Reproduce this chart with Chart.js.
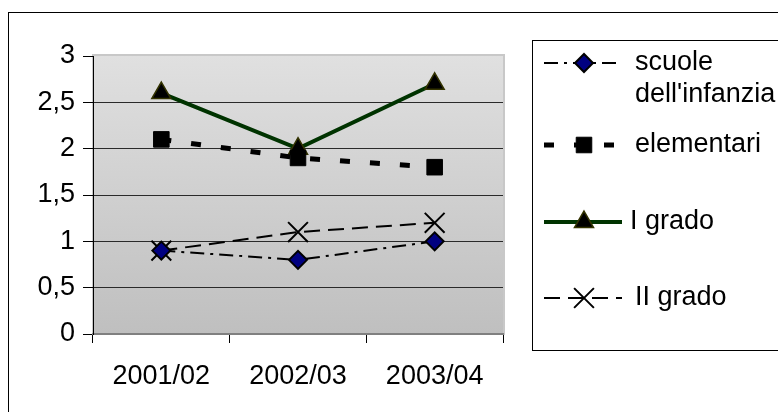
<!DOCTYPE html>
<html lang="it">
<head>
<meta charset="UTF-8">
<title>Grafico</title>
<style>
  body { margin: 0; background: #fff; }
  canvas { display: block; }
</style>
</head>
<body>
<canvas id="myChart" width="778" height="412"></canvas>

<script src="https://cdn.jsdelivr.net/npm/chart.js"></script>
<script>
// dati
let anni = ['2001/02', '2002/03', '2003/04'];
let infanzia = [0.9, 0.8, 1.0];
let elementari = [2.1, 1.9, 1.8];
let primoGrado = [2.6, 2.0, 2.7];
let secondoGrado = [0.9, 1.1, 1.2];
let etichette = [['scuole', "dell'infanzia"], ['elementari'], ['I grado'], ['II grado']];

let font = '"Liberation Sans", Arial, sans-serif';

// sfondo sfumato dell'area e cornice esterna
let sfondo = {
  id: 'sfondo',
  beforeDraw(chart) {
    let c = chart.ctx, a = chart.chartArea;
    c.save();
    let g = c.createLinearGradient(0, a.top, 0, a.bottom);
    g.addColorStop(0, '#e0e0e0');
    g.addColorStop(1, '#bfbfbf');
    c.fillStyle = g;
    c.fillRect(a.left, a.top - 1, a.right - a.left + 1, a.bottom - a.top + 1);
    c.strokeStyle = '#c8c8c8';
    c.lineWidth = 2;
    c.strokeRect(a.left, a.top - 1, a.right - a.left + 1, a.bottom - a.top + 1);
    c.strokeStyle = '#000';
    c.lineWidth = 1;
    c.strokeRect(8.5, 12.5, 820, 450);
    c.restore();
  }
};

// legenda disegnata a mano (linea + simbolo)
let legenda = {
  id: 'legenda',
  afterDraw(chart) {
    let c = chart.ctx;
    let righe = [63, 145, 222, 298];
    c.save();
    c.strokeStyle = '#000';
    c.lineWidth = 1;
    c.setLineDash([]);
    c.strokeRect(532.5, 40.5, 260, 310);
    chart.data.datasets.forEach((ds, i) => {
      let y = righe[i];
      c.save();
      c.strokeStyle = ds.borderColor;
      c.lineWidth = ds.borderWidth;
      c.setLineDash(ds.borderDash || []);
      c.beginPath();
      c.moveTo(544, y);
      c.lineTo(622, y);
      c.stroke();
      c.setLineDash([]);
      c.fillStyle = ds.pointBackgroundColor;
      c.strokeStyle = ds.pointBorderColor;
      c.lineWidth = ds.pointBorderWidth;
      Chart.helpers.drawPoint(c, {
        pointStyle: ds.pointStyle,
        radius: ds.pointRadius,
        rotation: 0,
        borderWidth: ds.pointBorderWidth
      }, 584, y);
      c.restore();
      c.fillStyle = '#000';
      c.font = '27px ' + font;
      c.textBaseline = 'middle';
      etichette[i].forEach((t, k) => {
        c.fillText(t, i == 2 ? 630 : 635, y + k * 32);
      });
    });
    c.restore();
  }
};

let ctx = document.getElementById('myChart');
new Chart(ctx, {
  type: 'line',
  data: {
    labels: anni,
    datasets: [{
      label: "scuole dell'infanzia",
      data: infanzia,
      borderColor: '#000',
      borderWidth: 2,
      borderDash: [14, 6, 3, 6],
      pointStyle: 'rectRot',
      pointRadius: 9,
      pointBackgroundColor: '#000080',
      pointBorderColor: '#000',
      pointBorderWidth: 2
    }, {
      label: 'elementari',
      data: elementari,
      borderColor: '#000',
      borderWidth: 5,
      borderDash: [10, 20],
      pointStyle: 'rect',
      pointRadius: 11,
      pointBackgroundColor: '#000',
      pointBorderColor: '#000',
      pointBorderWidth: 1
    }, {
      label: 'I grado',
      data: primoGrado,
      borderColor: '#003300',
      borderWidth: 4,
      pointStyle: 'triangle',
      pointRadius: 11,
      pointBackgroundColor: '#000',
      pointBorderColor: '#333300',
      pointBorderWidth: 1.5
    }, {
      label: 'II grado',
      data: secondoGrado,
      borderColor: '#000',
      borderWidth: 2,
      borderDash: [16, 8],
      pointStyle: 'crossRot',
      pointRadius: 14,
      pointBackgroundColor: '#000',
      pointBorderColor: '#000',
      pointBorderWidth: 2
    }]
  },
  options: {
    responsive: false,
    animation: false,
    events: [],
    layout: { padding: { left: 0, top: 56, right: 275, bottom: 0 } },
    plugins: { legend: { display: false }, tooltip: { enabled: false } },
    elements: { line: { tension: 0 } },
    scales: {
      x: {
        offset: true,
        grid: { offset: true, drawOnChartArea: false, tickLength: 9, color: '#000', tickColor: '#000' },
        border: { color: '#808080', width: 2 },
        ticks: { color: '#000', font: { family: font, size: 27 }, padding: 17, maxRotation: 0 },
        afterFit(s) { s.height = 78; }
      },
      y: {
        min: 0,
        max: 3,
        ticks: {
          stepSize: 0.5,
          color: '#000',
          padding: 8,
          font: { family: font, size: 27 },
          callback: v => String(v).replace('.', ',')
        },
        grid: {
          tickLength: 10,
          tickColor: '#000',
          color: c => (c.tick && c.tick.value === 3) ? 'rgba(0,0,0,0)' : '#2a2a2a'
        },
        border: { color: '#000', width: 1 },
        afterFit(s) { s.width = 93; }
      }
    }
  },
  plugins: [sfondo, legenda]
});
</script>
</body>
</html>
